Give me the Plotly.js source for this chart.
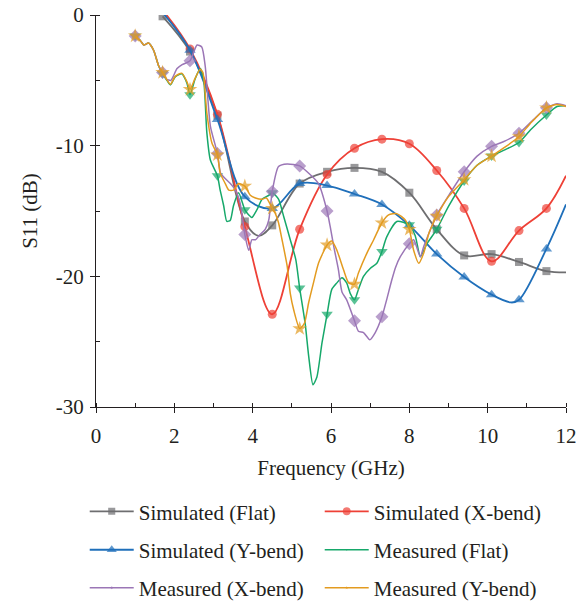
<!DOCTYPE html>
<html>
<head>
<meta charset="utf-8">
<script src="https://cdn.plot.ly/plotly-3.0.1.min.js"></script>
<style>html,body{margin:0;padding:0;background:#fff;}</style>
</head>
<body>
<div id="chart" style="width:576px;height:603px;"></div>
<script>
// ---- Data ----
const simFlatX = [1.7, 2.4, 3.1, 3.8, 4.15, 4.5, 5.2, 5.9, 6.6, 7.3, 8.0, 8.7, 9.4, 10.1, 10.8, 11.5, 12.0];
const simFlatY = [-0.1, -2.8, -7.7, -15.8, -16.9, -16.1, -12.9, -12.0, -11.7, -12.0, -13.6, -16.4, -18.4, -18.3, -18.9, -19.6, -19.7];

const simXbendX = [1.8, 2.4, 3.1, 3.8, 4.5, 5.2, 5.9, 6.6, 7.3, 8.0, 8.7, 9.4, 10.1, 10.8, 11.5, 12.0];
const simXbendY = [0.0, -2.6, -7.6, -16.2, -22.9, -16.4, -12.2, -10.2, -9.5, -9.85, -11.9, -14.8, -18.85, -16.5, -14.8, -12.3];

const simYbendX = [1.7, 2.4, 3.1, 3.8, 4.5, 5.2, 5.9, 6.6, 7.3, 8.0, 8.7, 9.4, 10.1, 10.6, 10.8, 11.5, 12.0];
const simYbendY = [0.2, -2.7, -8.0, -13.9, -14.8, -12.9, -13.05, -13.7, -14.5, -16.1, -18.3, -20.05, -21.4, -22.0, -21.8, -17.9, -14.5];

const measFlatX = [1.0, 1.13, 1.22, 1.34, 1.47, 1.6, 1.7, 1.81, 1.9, 2.02, 2.19, 2.32, 2.4, 2.53, 2.66, 2.75, 2.83, 2.92, 3.1, 3.17, 3.26, 3.34, 3.43, 3.51, 3.64, 3.8, 3.9, 3.98, 4.11, 4.24, 4.41, 4.5, 4.66, 4.79, 4.96, 5.1, 5.2, 5.34, 5.43, 5.54, 5.64, 5.77, 5.9, 6.02, 6.15, 6.28, 6.4, 6.49, 6.6, 6.7, 6.83, 7.0, 7.17, 7.3, 7.42, 7.68, 8.0, 8.15, 8.28, 8.37, 8.45, 8.7, 9.0, 9.4, 9.73, 10.1, 10.45, 10.8, 11.09, 11.5, 11.77, 12.0];
const measFlatY = [-1.6, -1.95, -2.3, -2.15, -2.7, -3.9, -4.5, -5.0, -5.35, -4.75, -4.5, -5.2, -6.1, -4.9, -4.1, -5.0, -9.0, -11.1, -12.3, -13.4, -14.6, -15.8, -15.7, -14.6, -13.6, -14.9, -15.3, -15.5, -14.9, -14.1, -13.8, -13.6, -14.1, -15.4, -17.2, -18.7, -20.9, -23.6, -26.1, -28.3, -27.7, -25.1, -22.9, -21.0, -20.5, -20.1, -20.5, -21.3, -21.8, -21.0, -20.0, -19.4, -19.0, -18.1, -17.0, -15.8, -16.05, -16.9, -18.5, -18.0, -17.5, -16.4, -14.65, -12.7, -11.5, -10.8, -10.3, -9.76, -8.8, -7.65, -7.0, -6.95];

const measXbendX = [1.0, 1.13, 1.22, 1.34, 1.47, 1.6, 1.7, 1.8, 1.91, 2.07, 2.2, 2.4, 2.58, 2.7, 2.79, 2.92, 3.1, 3.18, 3.26, 3.43, 3.56, 3.68, 3.8, 3.9, 3.98, 4.07, 4.19, 4.32, 4.41, 4.5, 4.66, 4.88, 5.2, 5.39, 5.68, 5.9, 5.98, 6.07, 6.19, 6.28, 6.4, 6.6, 6.7, 6.83, 6.99, 7.13, 7.3, 7.42, 7.55, 7.65, 7.77, 8.0, 8.11, 8.28, 8.37, 8.5, 8.7, 9.05, 9.4, 9.73, 10.1, 10.4, 10.8, 11.17, 11.5, 11.77, 12.0];
const measXbendY = [-1.6, -1.95, -2.3, -2.15, -2.7, -3.9, -4.4, -4.9, -5.0, -4.1, -3.8, -3.5, -2.3, -2.45, -3.95, -8.5, -10.6, -12.1, -12.4, -12.9, -13.4, -14.4, -16.8, -18.0, -17.2, -17.2, -16.8, -16.4, -15.7, -13.5, -11.6, -11.4, -11.55, -12.0, -12.9, -15.0, -16.2, -17.7, -19.5, -21.2, -21.8, -23.4, -24.2, -24.3, -24.85, -24.3, -23.1, -21.8, -20.3, -19.3, -18.5, -17.5, -17.2, -18.5, -17.7, -16.7, -15.3, -13.6, -12.0, -10.8, -10.05, -9.7, -9.05, -8.0, -7.1, -6.8, -6.95];

const measYbendX = [1.0, 1.13, 1.22, 1.34, 1.47, 1.6, 1.7, 1.81, 1.9, 2.02, 2.19, 2.32, 2.4, 2.53, 2.66, 2.73, 2.83, 2.96, 3.1, 3.17, 3.3, 3.39, 3.51, 3.64, 3.8, 3.94, 4.07, 4.24, 4.35, 4.5, 4.58, 4.66, 4.75, 4.88, 4.96, 5.05, 5.2, 5.32, 5.43, 5.56, 5.68, 5.9, 6.02, 6.15, 6.32, 6.45, 6.6, 6.7, 6.92, 7.09, 7.3, 7.47, 7.68, 7.9, 8.0, 8.11, 8.24, 8.37, 8.5, 8.7, 9.0, 9.4, 9.73, 10.1, 10.45, 10.8, 11.09, 11.5, 11.77, 12.0];
const measYbendY = [-1.6, -1.95, -2.3, -2.15, -2.7, -3.9, -4.4, -4.95, -5.3, -4.7, -4.45, -5.1, -5.7, -4.85, -4.15, -4.4, -7.5, -9.8, -10.7, -12.1, -12.9, -13.4, -13.4, -12.9, -13.1, -13.8, -14.0, -14.1, -14.0, -14.8, -15.2, -15.9, -17.2, -19.2, -21.3, -22.6, -24.0, -23.6, -22.0, -20.4, -19.0, -17.6, -17.3, -18.0, -19.5, -20.5, -20.6, -19.75, -18.2, -17.2, -15.9, -15.3, -15.2, -15.7, -16.4, -18.0, -19.0, -18.2, -16.7, -15.4, -13.9, -12.6, -11.5, -10.8, -10.1, -9.3, -8.3, -7.1, -6.85, -7.0];

const seriesNames = ["Simulated (Flat)", "Simulated (X-bend)", "Simulated (Y-bend)", "Measured (Flat)", "Measured (X-bend)", "Measured (Y-bend)"];
const yTickVals = [-30, -20, -10, 0];
const yTickText = ["-30", "-20", "-10", "0"];

// ---- Styling ----
const FONT = "'Liberation Serif', 'Times New Roman', serif";
const TXT = "#231f20";
const FS = 21;

// markers every 0.7 GHz starting from a reference frequency
function markerSizes(xs, start, size) {
  return xs.map(x => {
    const k = (x - start) / 0.7;
    return Math.abs(k - Math.round(k)) < 0.02 && k > -0.01 ? size : 0;
  });
}

function trace(xs, ys, name, color, symbol, size, start, width, legend, smooth) {
  return {
    type: "scatter", mode: "lines+markers", x: xs, y: ys, name: name, legend: legend,
    line: {color: color, width: width, shape: "spline", smoothing: smooth},
    marker: {color: color, symbol: symbol, size: markerSizes(xs, start, size), line: {width: 0}},
    cliponaxis: true
  };
}

const data = [
  trace(simFlatX, simFlatY, seriesNames[0], "#6e6e70", "square", 8, 1.7, 1.8, "legend", 1),
  trace(simXbendX, simXbendY, seriesNames[1], "#ee4036", "circle", 9, 1.7, 1.8, "legend", 1),
  trace(simYbendX, simYbendY, seriesNames[2], "#1f6fba", "triangle-up", 10, 1.7, 1.8, "legend2", 1),
  trace(measFlatX, measFlatY, seriesNames[3], "#16a86a", "triangle-down", 10, 1.0, 1.5, "legend2", 0.6),
  trace(measXbendX, measXbendY, seriesNames[4], "#9b76b6", "diamond", 10, 1.0, 1.5, "legend3", 0.6),
  trace(measYbendX, measYbendY, seriesNames[5], "#e39b20", "star", 11, 1.0, 1.5, "legend3", 0.6)
];

function legendAt(y) {
  return {
    orientation: "h", x: -0.024, xanchor: "left", y: y, yanchor: "middle",
    font: {family: FONT, size: FS, color: TXT}, bgcolor: "rgba(0,0,0,0)",
    itemwidth: 44, entrywidth: 176, entrywidthmode: "pixels", traceorder: "normal"
  };
}

const layout = {
  width: 576, height: 603,
  margin: {l: 96, r: 10, t: 15, b: 196, autoexpand: false},
  paper_bgcolor: "#fff", plot_bgcolor: "#fff",
  font: {family: FONT, size: FS, color: TXT},
  showlegend: true,
  xaxis: {
    range: [0, 12], tickmode: "linear", tick0: 0, dtick: 2,
    showline: true, linecolor: TXT, linewidth: 1, mirror: false,
    ticks: "outside", ticklen: 5, tickcolor: TXT, tickwidth: 1,
    ticklabelstandoff: 5, ticklabeloverflow: "allow",
    minor: {tickmode: "linear", tick0: 0, dtick: 1, ticks: "inside", ticklen: 4, tickcolor: TXT, showgrid: false},
    showgrid: false, zeroline: false, automargin: false,
    tickfont: {family: FONT, size: FS, color: TXT},
    title: {text: "Frequency (GHz)", font: {family: FONT, size: FS, color: TXT}, standoff: 13}
  },
  yaxis: {
    range: [-30, 0], tickmode: "array", tickvals: yTickVals, ticktext: yTickText,
    showline: true, linecolor: TXT, linewidth: 1,
    ticks: "outside", ticklen: 5, tickcolor: TXT, tickwidth: 1,
    ticklabelstandoff: 2, ticklabeloverflow: "allow",
    minor: {tickmode: "linear", tick0: 0, dtick: 5, ticks: "inside", ticklen: 4, tickcolor: TXT, showgrid: false},
    showgrid: false, zeroline: false, automargin: false,
    tickfont: {family: FONT, size: FS, color: TXT},
    title: {text: "S11 (dB)", font: {family: FONT, size: FS, color: TXT}, standoff: 12}
  },
  legend: legendAt(-0.267),
  legend2: legendAt(-0.365),
  legend3: legendAt(-0.462)
};

Plotly.newPlot("chart", data, layout, {displayModeBar: false, staticPlot: true});
</script>
</body>
</html>
